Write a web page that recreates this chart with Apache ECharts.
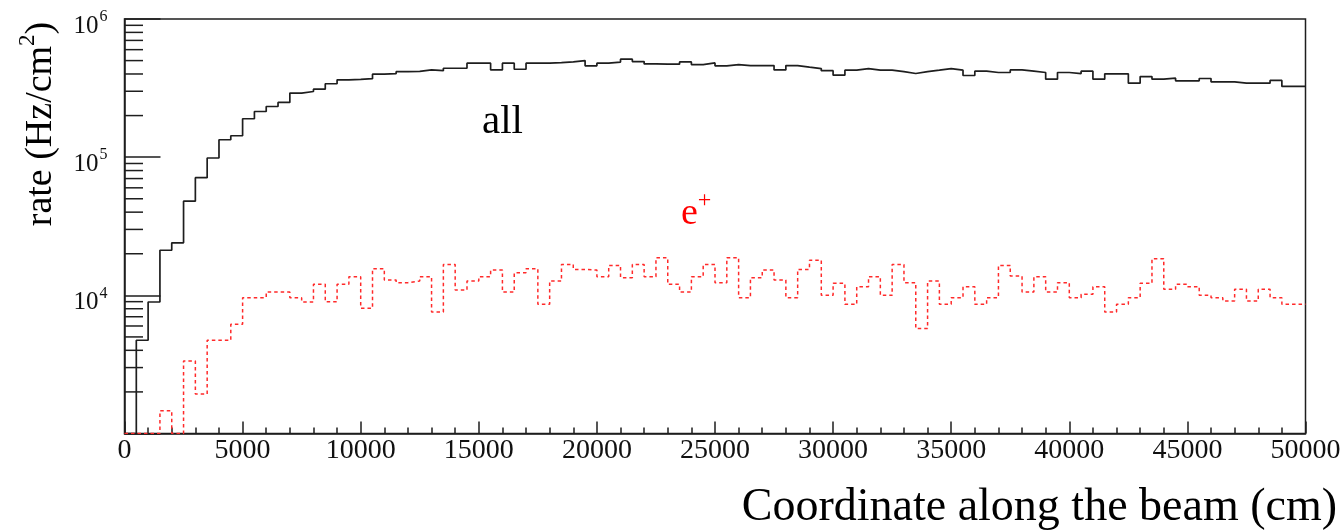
<!DOCTYPE html>
<html><head><meta charset="utf-8">
<script src="https://cdn.jsdelivr.net/npm/echarts@6/dist/echarts.min.js"></script>
<style>html,body{margin:0;padding:0;background:#fff}#c{width:1340px;height:531px}</style>
</head><body><div id="c"></div>
<script>
// Histogram binning along the beam (cm)
const binWidth = 500;
const xMax = 50000;
// "all" rate per bin (Hz/cm^2), 100 bins of 500 cm; first bin empty (drawn at floor)
const allRate = [
  1000, 4730, 8950, 21200, 24000, 48000, 71100, 98600, 133700, 142900,
  189700, 214000, 232700, 248800, 291000, 298600, 310600, 340000, 362800, 366000,
  370000, 399000, 402000, 416000, 418000, 428000, 423000, 440000, 440000, 479000,
  479000, 428000, 479000, 433000, 479000, 479000, 484000, 490000, 500000, 458000,
  479000, 488000, 512000, 492000, 473000, 471000, 471000, 489000, 468000, 481000,
  458000, 468000, 460000, 460000, 460000, 428000, 460000, 448000, 438000, 423000,
  392000, 426000, 438000, 426000, 426000, 416000, 403000, 416000, 426000, 438000,
  426000, 390000, 419000, 410000, 410000, 428000, 419000, 410000, 367000, 410000,
  403000, 419000, 367000, 401000, 401000, 343000, 383000, 367000, 373000, 357000,
  357000, 371000, 351000, 351000, 343000, 343000, 343000, 359000, 325000, 325000
];
// e+ rate per bin (Hz/cm^2); bins at 1000 sit on the axis floor
const positronRate = [
  1000, 1000, 1000, 1461, 1000, 3354, 1929, 4733, 4733, 6175,
  9625, 9625, 10560, 10560, 9625, 8946, 12010, 8990, 12010, 13650,
  8056, 15590, 12900, 12350, 12680, 13650, 7575, 16740, 10920, 12680,
  13650, 15230, 10560, 14580, 15590, 8610, 12680, 16740, 15410, 15230,
  13650, 16460, 13420, 16740, 13650, 18720, 12010, 10560, 13650, 16740,
  12350, 18720, 9625, 13420, 15230, 12900, 9625, 15410, 17980, 10000,
  12210, 8610, 11560, 13650, 10000, 16740, 12350, 5748, 12680, 8610,
  9625, 11560, 8610, 9625, 16460, 13790, 10560, 13650, 10560, 12350,
  9625, 10170, 11560, 7575, 8610, 9625, 12210, 18410, 11050, 12010,
  11560, 10000, 9625, 9096, 11050, 9096, 11050, 9625, 8610, 8610
];
const yMinorTicks = [2000,3000,4000,5000,6000,7000,8000,9000,
  20000,30000,40000,50000,60000,70000,80000,90000,
  200000,300000,400000,500000,600000,700000,800000,900000];
const labelAll = {text: 'all', x: 16000, y: 180000};
const labelEp = {text: 'e', sup: '+', x: 24200, y: 41000};

const FONT = '"Liberation Serif", "Times New Roman", serif';
const INK = '#1e1e1e';

function histPoints(vals) {
  const pts = vals.map((v, i) => [i * binWidth, v]);
  pts.push([vals.length * binWidth, vals[vals.length - 1]]);
  return pts;
}

const chart = echarts.init(document.getElementById('c'), null, {renderer: 'canvas'});
const option = {
  animation: false,
  grid: {left: 124.5, right: 34.5, top: 19, bottom: 97.5, show: true, containLabel: false,
         outerBoundsMode: 'none',
         borderColor: INK, borderWidth: 1.5, backgroundColor: 'transparent'},
  xAxis: {
    type: 'value', min: 0, max: xMax, interval: 5000,
    axisLine: {onZero: false, lineStyle: {color: INK, width: 1.5}},
    axisTick: {inside: true, length: 12, lineStyle: {color: INK, width: 1.5}},
    minorTick: {show: true, splitNumber: 5, length: 6, lineStyle: {color: INK, width: 1.5}},
    splitLine: {show: false}, minorSplitLine: {show: false},
    axisLabel: {fontFamily: FONT, fontSize: 28, color: '#111', margin: 3, showMaxLabel: true, showMinLabel: true,
      hideOverlap: false, formatter: function (v) { return String(v); }}
  },
  yAxis: {
    type: 'log', logBase: 10, min: 1000, max: 1000000,
    axisLine: {onZero: false, lineStyle: {color: INK, width: 1.5}},
    axisTick: {inside: true, length: 36, lineStyle: {color: INK, width: 1.5}},
    splitLine: {show: false},
    axisLabel: {
      margin: 17, padding: [10, 0, 0, 0],
      formatter: function (v) {
        const e = Math.round(Math.log10(v));
        if (e <= 3) return '';
        return '{b|10}{s|' + e + '}';
      },
      rich: {
        b: {fontFamily: FONT, fontSize: 25, color: '#111', lineHeight: 30, verticalAlign: 'bottom'},
        s: {fontFamily: FONT, fontSize: 16, color: '#111', verticalAlign: 'top', padding: [0, 0, 0, 1]}
      }
    }
  },
  series: [
    {
      name: 'all', type: 'line', step: 'end', symbol: 'none', clip: true,
      data: histPoints(allRate),
      lineStyle: {color: INK, width: 1.7}
    },
    {
      name: 'e+', type: 'line', step: 'end', symbol: 'none', clip: true,
      data: histPoints(positronRate),
      lineStyle: {color: '#ff2a2a', width: 1.5, type: [3.5, 3]}
    },
    {
      name: 'yMinor', type: 'custom', silent: true, clip: false,
      data: yMinorTicks.map(v => [0, v]),
      renderItem: function (params, api) {
        const p = api.coord([0, api.value(1)]);
        return {type: 'line', shape: {x1: p[0], y1: p[1], x2: p[0] + 18.5, y2: p[1]},
                style: {stroke: INK, lineWidth: 1.5}};
      }
    }
  ]
};
chart.setOption(option);

const pAll = chart.convertToPixel({gridIndex: 0}, [labelAll.x, labelAll.y]);
const pEp = chart.convertToPixel({gridIndex: 0}, [labelEp.x, labelEp.y]);
chart.setOption({
  graphic: [
    {type: 'text', x: pAll[0], y: pAll[1], style: {text: labelAll.text, font: '41px ' + FONT,
      fill: '#000', align: 'center', verticalAlign: 'middle'}},
    {type: 'text', x: pEp[0], y: pEp[1], style: {
      text: '{b|' + labelEp.text + '}{s|' + labelEp.sup + '}', align: 'center', verticalAlign: 'middle',
      rich: {b: {fontFamily: FONT, fontSize: 38, fill: '#ff0000', lineHeight: 44, verticalAlign: 'bottom'},
             s: {fontFamily: FONT, fontSize: 24, fill: '#ff0000', verticalAlign: 'top'}}}},
    {type: 'text', x: 1337, y: 508, style: {text: 'Coordinate along the beam (cm)', font: '46px ' + FONT,
      fill: '#000', align: 'right', verticalAlign: 'middle'}},
    {type: 'text', x: 38, y: 124, rotation: Math.PI / 2, style: {
      text: '{b|rate (Hz/cm}{s|2}{b|)}', align: 'center', verticalAlign: 'middle',
      rich: {b: {fontFamily: FONT, fontSize: 38, fill: '#000', lineHeight: 44, verticalAlign: 'bottom'},
             s: {fontFamily: FONT, fontSize: 23, fill: '#000', verticalAlign: 'top'}}}}
  ]
});
</script></body></html>
